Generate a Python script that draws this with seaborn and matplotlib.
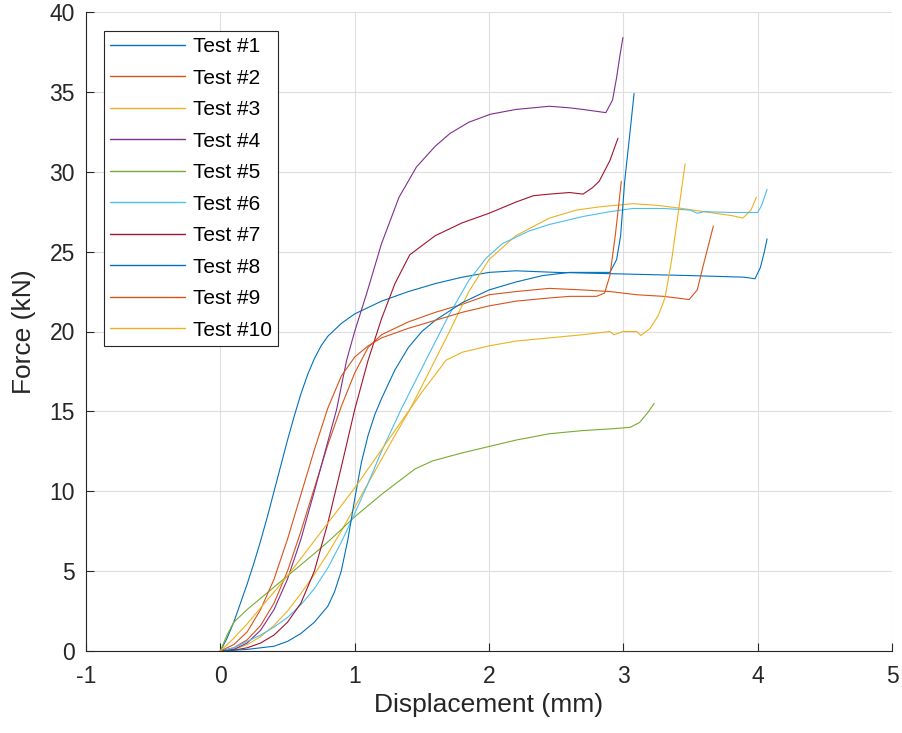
import matplotlib
matplotlib.use("Agg")
import matplotlib.pyplot as plt
import pandas as pd
import seaborn as sns

# Force-displacement records for the ten tests (displacement in mm, force in kN)
disp_1 = [0, 0.05, 0.1, 0.15, 0.2, 0.25, 0.3, 0.35, 0.4, 0.45, 0.5, 0.55, 0.6, 0.65, 0.7,
          0.75, 0.8, 0.9, 1.0, 1.2, 1.4, 1.6, 1.8, 2.0, 2.2, 2.5, 3.0, 3.5, 3.9, 3.98,
          4.02, 4.05, 4.07]
force_1 = [0, 0.8, 1.8, 3.0, 4.2, 5.5, 6.9, 8.4, 10.0, 11.6, 13.2, 14.7, 16.1, 17.3, 18.3,
           19.1, 19.7, 20.5, 21.1, 21.9, 22.5, 23.0, 23.4, 23.7, 23.8, 23.7, 23.6, 23.5, 23.4, 23.3,
           24.0, 25.0, 25.8]

disp_2 = [0, 0.1, 0.2, 0.3, 0.4, 0.5, 0.6, 0.7, 0.8, 0.9, 1.0, 1.1, 1.2, 1.4, 1.6, 1.8,
          2.0, 2.2, 2.45, 2.7, 2.9, 3.1, 3.3, 3.49, 3.55, 3.6, 3.67]
force_2 = [0, 0.2, 0.7, 1.6, 3.0, 5.0, 7.5, 10.2, 12.9, 15.3, 17.4, 19.0, 19.8, 20.6, 21.2, 21.7,
           22.3, 22.5, 22.7, 22.6, 22.5, 22.3, 22.2, 22.0, 22.6, 24.3, 26.6]

disp_3 = [0, 0.1, 0.2, 0.3, 0.4, 0.5, 0.6, 0.7, 0.8, 0.9, 1.0, 1.1, 1.2, 1.3, 1.41, 1.55,
          1.7, 1.85, 2.0, 2.2, 2.45, 2.65, 2.82, 3.07, 3.25, 3.44, 3.6, 3.81, 3.89, 3.95, 3.99]
force_3 = [0, 0.1, 0.4, 0.9, 1.6, 2.5, 3.6, 4.8, 6.1, 7.5, 9.0, 10.5, 12.0, 13.5, 15.1, 17.4,
           19.9, 22.5, 24.5, 26.0, 27.1, 27.6, 27.8, 28.0, 27.9, 27.7, 27.5, 27.25, 27.1, 27.6, 28.4]

disp_4 = [0, 0.1, 0.2, 0.3, 0.4, 0.5, 0.6, 0.7, 0.8, 0.865, 0.94, 1.0, 1.09, 1.2, 1.33, 1.46,
          1.6, 1.71, 1.85, 2.01, 2.2, 2.45, 2.6, 2.7, 2.87, 2.92, 2.95, 2.975, 2.997]
force_4 = [0, 0.1, 0.5, 1.3, 2.6, 4.5, 7.0, 10.0, 13.1, 15.1, 18.2, 20.0, 22.4, 25.5, 28.4, 30.3,
           31.6, 32.4, 33.1, 33.6, 33.9, 34.1, 34.0, 33.9, 33.7, 34.5, 35.9, 37.3, 38.4]

disp_5 = [0, 0.05, 0.1, 0.2, 0.3, 0.4, 0.5, 0.6, 0.7, 0.81, 0.9, 1.0, 1.1, 1.2, 1.34, 1.45,
          1.58, 1.8, 2.0, 2.2, 2.45, 2.7, 2.9, 3.05, 3.12, 3.18, 3.23]
force_5 = [0, 1.0, 1.8, 2.6, 3.3, 4.0, 4.7, 5.4, 6.1, 6.9, 7.6, 8.4, 9.1, 9.8, 10.7, 11.4,
           11.9, 12.4, 12.8, 13.2, 13.6, 13.8, 13.9, 14.0, 14.3, 14.9, 15.5]

disp_6 = [0, 0.1, 0.2, 0.3, 0.4, 0.5, 0.6, 0.7, 0.8, 0.9, 1.0, 1.1, 1.2, 1.35, 1.5, 1.7,
          1.85, 1.98, 2.1, 2.3, 2.45, 2.7, 2.9, 3.07, 3.3, 3.5, 3.55, 3.6, 3.8, 4.0, 4.03, 4.07]
force_6 = [0, 0.2, 0.6, 1.0, 1.5, 2.1, 2.9, 3.9, 5.2, 6.8, 8.6, 10.5, 12.5, 15.2, 17.7, 21.0,
           23.2, 24.6, 25.5, 26.3, 26.7, 27.2, 27.5, 27.7, 27.7, 27.6, 27.4, 27.5, 27.45, 27.45, 27.9, 28.9]

disp_7 = [0, 0.1, 0.2, 0.3, 0.4, 0.5, 0.6, 0.7, 0.8, 0.9, 1.0, 1.1, 1.2, 1.3, 1.41, 1.6,
          1.8, 2.0, 2.2, 2.33, 2.45, 2.6, 2.7, 2.77, 2.82, 2.9, 2.96]
force_7 = [0, 0.05, 0.2, 0.5, 1.0, 1.8, 3.0, 5.0, 8.0, 11.5, 15.1, 18.2, 20.8, 23.0, 24.8, 26.0,
           26.8, 27.4, 28.1, 28.5, 28.6, 28.7, 28.6, 29.0, 29.4, 30.7, 32.1]

disp_8 = [0, 0.2, 0.4, 0.5, 0.6, 0.7, 0.8, 0.85, 0.9, 0.95, 1.0, 1.05, 1.1, 1.15, 1.2, 1.3,
          1.4, 1.5, 1.6, 1.8, 2.0, 2.2, 2.4, 2.6, 2.8, 2.9, 2.95, 2.98, 3.01, 3.05, 3.08]
force_8 = [0, 0.1, 0.3, 0.6, 1.1, 1.8, 2.8, 3.7, 5.0, 7.0, 9.5, 11.8, 13.5, 14.8, 15.8, 17.6,
           19.0, 20.0, 20.7, 21.8, 22.6, 23.1, 23.5, 23.7, 23.7, 23.7, 24.5, 26.0, 29.4, 32.5, 34.9]

disp_9 = [0, 0.1, 0.2, 0.3, 0.4, 0.5, 0.6, 0.7, 0.8, 0.9, 1.0, 1.1, 1.2, 1.4, 1.6, 1.8,
          2.0, 2.2, 2.45, 2.6, 2.8, 2.86, 2.9, 2.94, 2.985]
force_9 = [0, 0.4, 1.2, 2.6, 4.5, 7.0, 9.8, 12.6, 15.2, 17.2, 18.4, 19.1, 19.6, 20.2, 20.7, 21.2,
           21.6, 21.9, 22.1, 22.2, 22.2, 22.4, 23.5, 26.0, 29.4]

disp_10 = [0, 0.1, 0.2, 0.3, 0.4, 0.5, 0.6, 0.7, 0.8, 0.9, 1.0, 1.1, 1.2, 1.3, 1.4, 1.5,
           1.6, 1.68, 1.8, 2.0, 2.2, 2.45, 2.7, 2.9, 2.93, 3.0, 3.1, 3.13, 3.2, 3.26, 3.31, 3.36,
           3.41, 3.46]
force_10 = [0, 0.8, 1.7, 2.7, 3.7, 4.7, 5.8, 6.9, 8.0, 9.1, 10.2, 11.4, 12.6, 13.8, 15.0, 16.2,
            17.3, 18.2, 18.7, 19.1, 19.4, 19.6, 19.8, 20.0, 19.8, 20.0, 20.0, 19.75, 20.2, 21.0, 22.1, 24.5,
            27.5, 30.5]

test_names = ["Test #1", "Test #2", "Test #3", "Test #4", "Test #5",
              "Test #6", "Test #7", "Test #8", "Test #9", "Test #10"]
line_colors = ["#0072BD", "#D95319", "#EDB120", "#7E2F8E", "#77AC30",
               "#4DBEEE", "#A2142F", "#0072BD", "#D95319", "#EDB120"]
x_ticks = [-1, 0, 1, 2, 3, 4, 5]
y_ticks = [0, 5, 10, 15, 20, 25, 30, 35, 40]

disps = [disp_1, disp_2, disp_3, disp_4, disp_5, disp_6, disp_7, disp_8, disp_9, disp_10]
forces = [force_1, force_2, force_3, force_4, force_5, force_6, force_7, force_8, force_9, force_10]

df = pd.concat(
    [pd.DataFrame({"Displacement": d, "Force": f, "Test": n})
     for n, d, f in zip(test_names, disps, forces)],
    ignore_index=True,
)

sns.set_theme(style="white")
plt.rcParams["font.family"] = ["Liberation Sans", "DejaVu Sans"]
plt.rcParams["axes.unicode_minus"] = False

ink = "#262626"
fig = plt.figure(figsize=(9.02, 7.33), dpi=100)
ax = fig.add_axes([86 / 902, 1 - 651 / 733, 806 / 902, 639 / 733])

sns.lineplot(data=df, x="Displacement", y="Force", hue="Test", hue_order=test_names,
             palette=line_colors, estimator=None, sort=False, linewidth=0.8, ax=ax)

ax.set_xlim(-1, 5)
ax.set_ylim(0, 40)
ax.set_xticks(x_ticks)
ax.set_yticks(y_ticks)
ax.grid(True, color="#DEDEDE", linewidth=0.8)
ax.set_axisbelow(True)

for side in ("top", "right"):
    ax.spines[side].set_visible(False)
for side in ("left", "bottom"):
    ax.spines[side].set_color(ink)
    ax.spines[side].set_linewidth(0.8)

ax.tick_params(axis="both", direction="in", length=6, width=0.8, colors=ink,
               labelsize=16.5, bottom=True, left=True, top=False, right=False)
ax.tick_params(axis="x", pad=10)
ax.tick_params(axis="y", pad=8)

ax.set_xlabel("Displacement (mm)", fontsize=19, color=ink, labelpad=4)
ax.set_ylabel("Force (kN)", fontsize=19, color=ink, labelpad=10)

leg = ax.legend(loc="upper left", bbox_to_anchor=(18 / 806, 1 - 19 / 639), borderaxespad=0,
                fontsize=15, handlelength=3.6, handletextpad=0.35, labelspacing=0.6,
                borderpad=0.3, frameon=True, fancybox=False, framealpha=1,
                edgecolor=ink, title=None)
leg.get_frame().set_linewidth(0.8)
for handle, color in zip(leg.legend_handles, line_colors):
    handle.set_color(color)
    handle.set_linewidth(1.0)
for t in leg.get_texts():
    t.set_color("#000000")

fig.savefig("out.png", dpi=100, facecolor="white")
